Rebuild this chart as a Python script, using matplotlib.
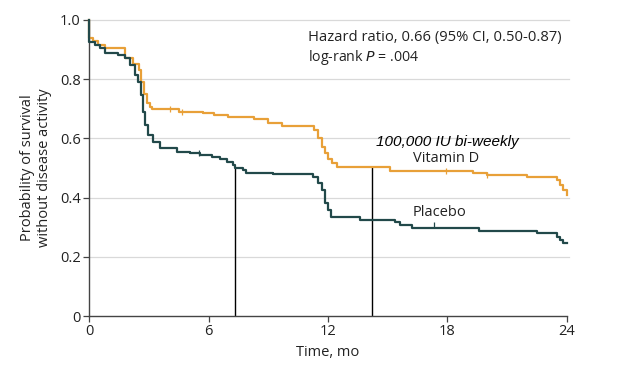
import matplotlib
matplotlib.use("Agg")
import matplotlib.pyplot as plt

# ---- data ----
vitd_t = [0, 0, 0.2, 0.45, 0.8, 1.8, 2.2, 2.5, 2.6, 2.75, 2.9, 3.05, 3.15, 4.5, 5.7, 6.3, 7.0,
          8.3, 9.0, 9.7, 11.3, 11.5, 11.7, 11.85, 12.0, 12.2, 12.45, 15.1, 19.3, 20.0, 22.0,
          23.5, 23.65, 23.8, 24]
vitd_s = [1.0, 0.94, 0.93, 0.915, 0.905, 0.87, 0.85, 0.83, 0.79, 0.75, 0.72, 0.705, 0.70, 0.69,
          0.685, 0.679, 0.671, 0.664, 0.653, 0.642, 0.63, 0.60, 0.57, 0.55, 0.53, 0.517, 0.505,
          0.491, 0.482, 0.476, 0.468, 0.459, 0.443, 0.426, 0.41]

plac_t = [0, 0, 0.3, 0.55, 0.8, 1.47, 1.8, 2.05, 2.3, 2.47, 2.6, 2.7, 2.8, 2.97, 3.2, 3.55, 4.4,
          5.07, 5.57, 6.17, 6.58, 6.93, 7.23, 7.33, 7.73, 7.9, 9.25, 11.25, 11.5, 11.7, 11.85,
          12.0, 12.15, 13.6, 15.36, 15.6, 16.2, 19.6, 22.5, 23.5, 23.65, 23.8, 24]
plac_s = [1.0, 0.925, 0.915, 0.904, 0.887, 0.882, 0.87, 0.848, 0.814, 0.79, 0.747, 0.69, 0.645,
          0.61, 0.589, 0.566, 0.555, 0.55, 0.544, 0.536, 0.529, 0.521, 0.51, 0.499, 0.493, 0.484,
          0.479, 0.47, 0.448, 0.426, 0.382, 0.358, 0.334, 0.324, 0.319, 0.307, 0.296, 0.288,
          0.279, 0.268, 0.257, 0.246, 0.246]

vitd_censor_t = [4.07, 4.67, 17.9, 20.0]
vitd_censor_s = [0.70, 0.69, 0.491, 0.476]
plac_censor_t = [5.5, 17.3]
plac_censor_s = [0.55, 0.307]

median_times = [7.33, 14.2]
median_level = 0.5

x_ticks = [0, 6, 12, 18, 24]
y_ticks = [0, 0.2, 0.4, 0.6, 0.8, 1.0]
y_tick_labels = ["0", "0.2", "0.4", "0.6", "0.8", "1.0"]

ORANGE = "#E8A038"
TEAL = "#22494A"
FONT = "Open Sans"

plt.rcParams["font.family"] = [FONT, "DejaVu Sans"]

fig = plt.figure(figsize=(6.18, 3.70), dpi=100)
ax = fig.add_axes([89 / 618, 54 / 370, 478 / 618, 296 / 370])

ax.set_xlim(0, 24)
ax.set_ylim(0, 1.0)

for y in y_ticks[1:]:
    ax.plot([0, 24.1], [y, y], color="#d9d9d9", lw=0.9, zorder=0, clip_on=False)

for mt in median_times:
    ax.plot([mt, mt], [0, median_level], color="black", lw=1.0, zorder=2)

ax.step(vitd_t, vitd_s, where="post", color=ORANGE, lw=1.6, zorder=3, clip_on=False)
ax.step(plac_t, plac_s, where="post", color=TEAL, lw=1.6, zorder=4, clip_on=False)
ax.plot(vitd_censor_t, vitd_censor_s, ls="none", marker="|", ms=5, mew=0.9, color=ORANGE, zorder=3)
ax.plot(plac_censor_t, plac_censor_s, ls="none", marker="|", ms=5, mew=0.9, color=TEAL, zorder=4)

for s in ["top", "right"]:
    ax.spines[s].set_visible(False)
for s in ["left", "bottom"]:
    ax.spines[s].set_color("#444444")
    ax.spines[s].set_linewidth(1.0)

ax.set_xticks(x_ticks)
ax.set_yticks(y_ticks)
ax.set_yticklabels(y_tick_labels)
ax.tick_params(axis="both", direction="out", length=4, width=0.9, color="#444444",
               labelsize=10.5, labelcolor="#222222", pad=2)

ax.set_xlabel("Time, mo", fontsize=10.5, color="#222222", labelpad=4)
ax.set_ylabel("Probability of survival\nwithout disease activity", fontsize=10.5,
              color="#222222", labelpad=6, linespacing=1.1)

ax.text(11.0, 0.94, "Hazard ratio, 0.66 (95% CI, 0.50-0.87)", fontsize=10.6,
        color="#222222", va="center", ha="left")
ax.text(11.0, 0.872, "log-rank $\\mathit{P}$ = .004", fontsize=10.2, color="#222222",
        va="center", ha="left")
ax.text(18.0, 0.588, "100,000 IU bi-weekly", fontsize=11, style="italic",
        family="Liberation Sans", color="black", va="center", ha="center")
ax.text(17.95, 0.532, "Vitamin D", fontsize=10.5, color="#222222", va="center", ha="center")
ax.text(17.6, 0.351, "Placebo", fontsize=10.5, color="#222222", va="center", ha="center")

fig.savefig("out.png", dpi=100)
